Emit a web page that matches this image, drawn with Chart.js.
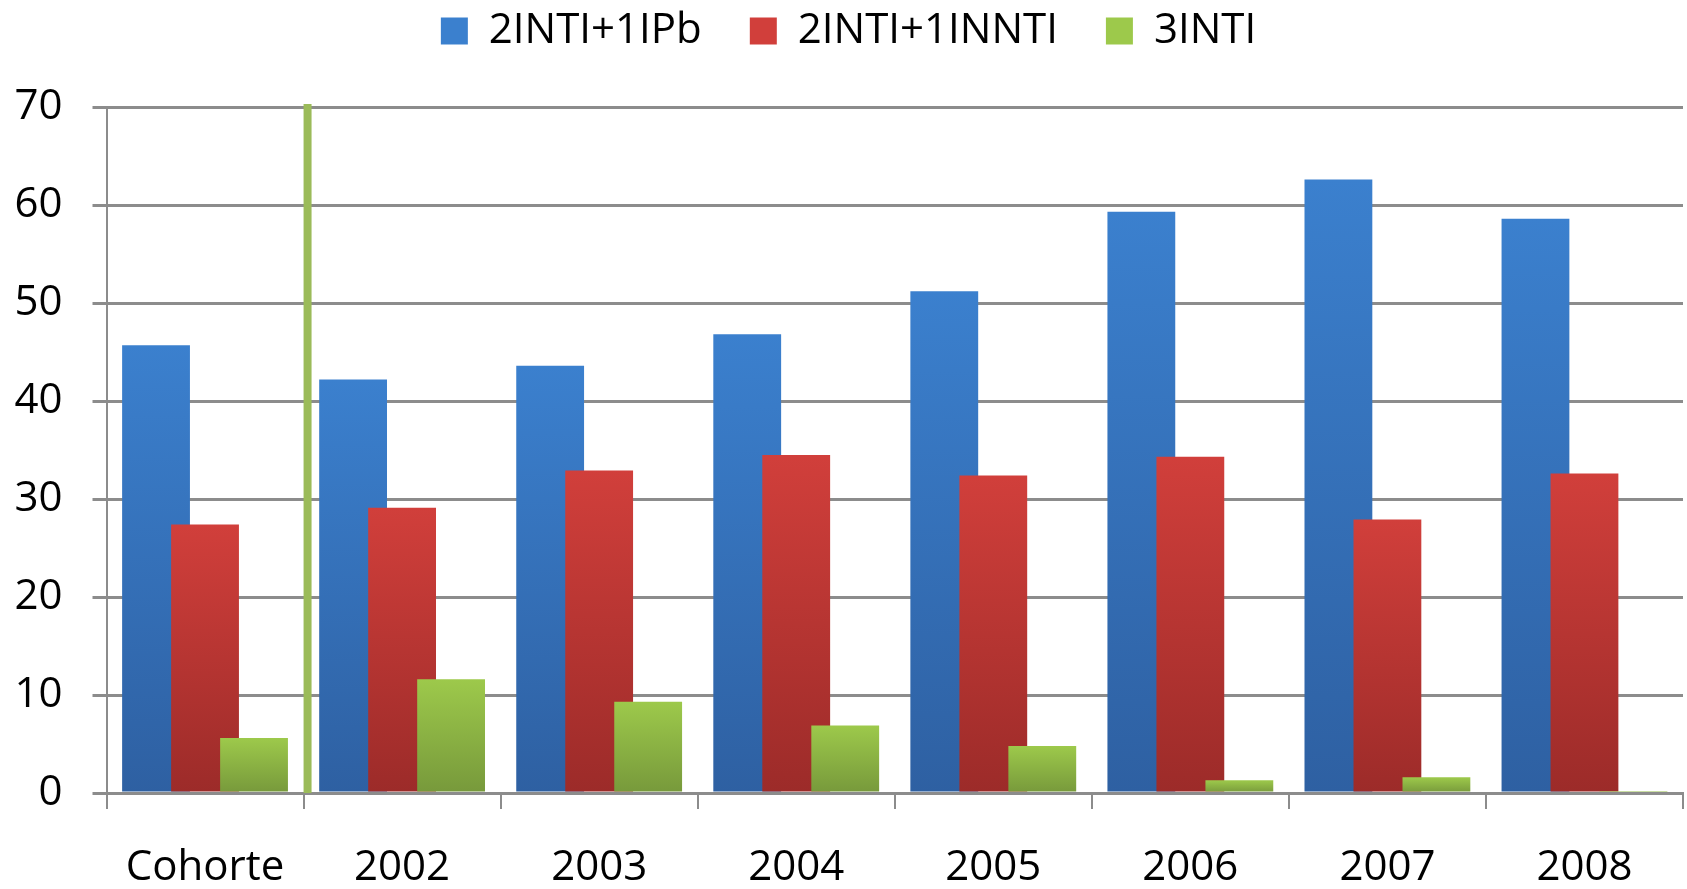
<!DOCTYPE html>
<html>
<head>
<meta charset="utf-8">
<script src="https://cdn.jsdelivr.net/npm/chart.js@4"></script>
<style>
  html, body { margin: 0; padding: 0; background: #ffffff; }
  #wrap { width: 1687px; height: 889px; position: relative; }
</style>
</head>
<body>
<div id="wrap"><canvas id="c"></canvas></div>
<script>
const categories = ['Cohorte', '2002', '2003', '2004', '2005', '2006', '2007', '2008'];
const seriesNames = ['2INTI+1IPb', '2INTI+1INNTI', '3INTI'];
const ipbValues   = [45.7, 42.2, 43.6, 46.8, 51.2, 59.3, 62.6, 58.6];
const innitValues = [27.4, 29.1, 32.9, 34.5, 32.4, 34.3, 27.9, 32.6];
const intiValues  = [5.6, 11.6, 9.3, 6.9, 4.8, 1.3, 1.6, 0.2];
const yTicks = [0, 10, 20, 30, 40, 50, 60, 70];

const FONT = "'Open Sans', 'Liberation Sans', sans-serif";

function barGradient(topColor, bottomColor) {
  return function (ctx) {
    const chart = ctx.chart;
    const c = chart.ctx;
    let y0, y1;
    if (ctx.type === 'data' && chart.scales && chart.scales.y && chart.chartArea) {
      const ys = chart.scales.y;
      y0 = ys.getPixelForValue(ctx.raw);
      y1 = ys.getPixelForValue(0);
      if (Math.abs(y1 - y0) < 1) { y0 = y1 - 1; }
    } else {
      y0 = 14; y1 = 42;
    }
    const g = c.createLinearGradient(0, y0, 0, y1);
    g.addColorStop(0, topColor);
    g.addColorStop(1, bottomColor);
    return g;
  };
}

// Draw datasets in index order so later series overlap earlier ones
const drawOrderPlugin = {
  id: 'drawOrder',
  beforeDatasetsDraw(chart) {
    const metas = chart.getSortedVisibleDatasetMetas();
    for (const m of metas) chart._drawDataset(m);
    return false;
  }
};

const legendPlacePlugin = {
  id: 'legendPlace',
  beforeInit(chart) {
    const legend = chart.legend;
    const origFit = legend.fit;
    legend.fit = function () {
      origFit.call(this);
      this.height = 107;
    };
  },
  afterLayout(chart) {
    const l = chart.legend;
    l.top = -38;
    l.bottom = l.top + l.height;
  }
};

const separatorPlugin = {
  id: 'separator',
  afterDraw(chart) {
    const xs = chart.scales.x, ys = chart.scales.y;
    const c = chart.ctx;
    const half = (xs.getPixelForValue(1) - xs.getPixelForValue(0)) / 2;
    const x = xs.getPixelForValue(0) + half + 4;
    c.save();
    c.strokeStyle = '#9bbb59';
    c.lineWidth = 8;
    c.beginPath();
    c.moveTo(x, ys.getPixelForValue(70) - 3);
    c.lineTo(x, ys.getPixelForValue(0));
    c.stroke();
    c.restore();
  }
};

new Chart(document.getElementById('c'), {
  type: 'bar',
  data: {
    labels: categories,
    datasets: [
      { label: seriesNames[0], data: ipbValues,
        backgroundColor: barGradient('#3b80ce', '#2e60a2') },
      { label: seriesNames[1], data: innitValues,
        backgroundColor: barGradient('#d13f3b', '#9c2b29') },
      { label: seriesNames[2], data: intiValues,
        backgroundColor: barGradient('#9dc94b', '#77993b') }
    ]
  },
  options: {
    responsive: true,
    maintainAspectRatio: false,
    animation: false,
    devicePixelRatio: 1,
    categoryPercentage: 0.746,
    barPercentage: 1.384,
    layout: { padding: { left: 14, right: 4, top: 0, bottom: 0 } },
    plugins: {
      legend: {
        position: 'top',
        labels: {
          color: '#000000',
          font: { family: FONT, size: 42 },
          boxWidth: 27,
          boxHeight: 27,
          padding: 48
        }
      },
      tooltip: { enabled: false }
    },
    scales: {
      x: {
        type: 'category',
        offset: true,
        afterFit(axis) { axis.height = 96; },
        grid: {
          offset: true,
          drawOnChartArea: false,
          drawTicks: true,
          tickLength: 16,
          color: '#8c8c8c',
          lineWidth: 2
        },
        border: { display: true, color: '#8c8c8c', width: 3 },
        ticks: {
          color: '#000000',
          font: { family: FONT, size: 42 },
          padding: 34,
          maxRotation: 0
        }
      },
      y: {
        min: 0,
        max: 70,
        afterBuildTicks(axis) { axis.ticks = yTicks.map(v => ({ value: v })); },
        afterFit(axis) { axis.width = 92.5; },
        grid: {
          color: '#8c8c8c',
          lineWidth: 3,
          tickLength: 14,
          drawTicks: true
        },
        border: { display: true, color: '#8c8c8c', width: 2 },
        ticks: {
          color: '#000000',
          font: { family: FONT, size: 42 },
          padding: 30
        }
      }
    }
  },
  plugins: [drawOrderPlugin, legendPlacePlugin, separatorPlugin]
});
</script>
</body>
</html>
